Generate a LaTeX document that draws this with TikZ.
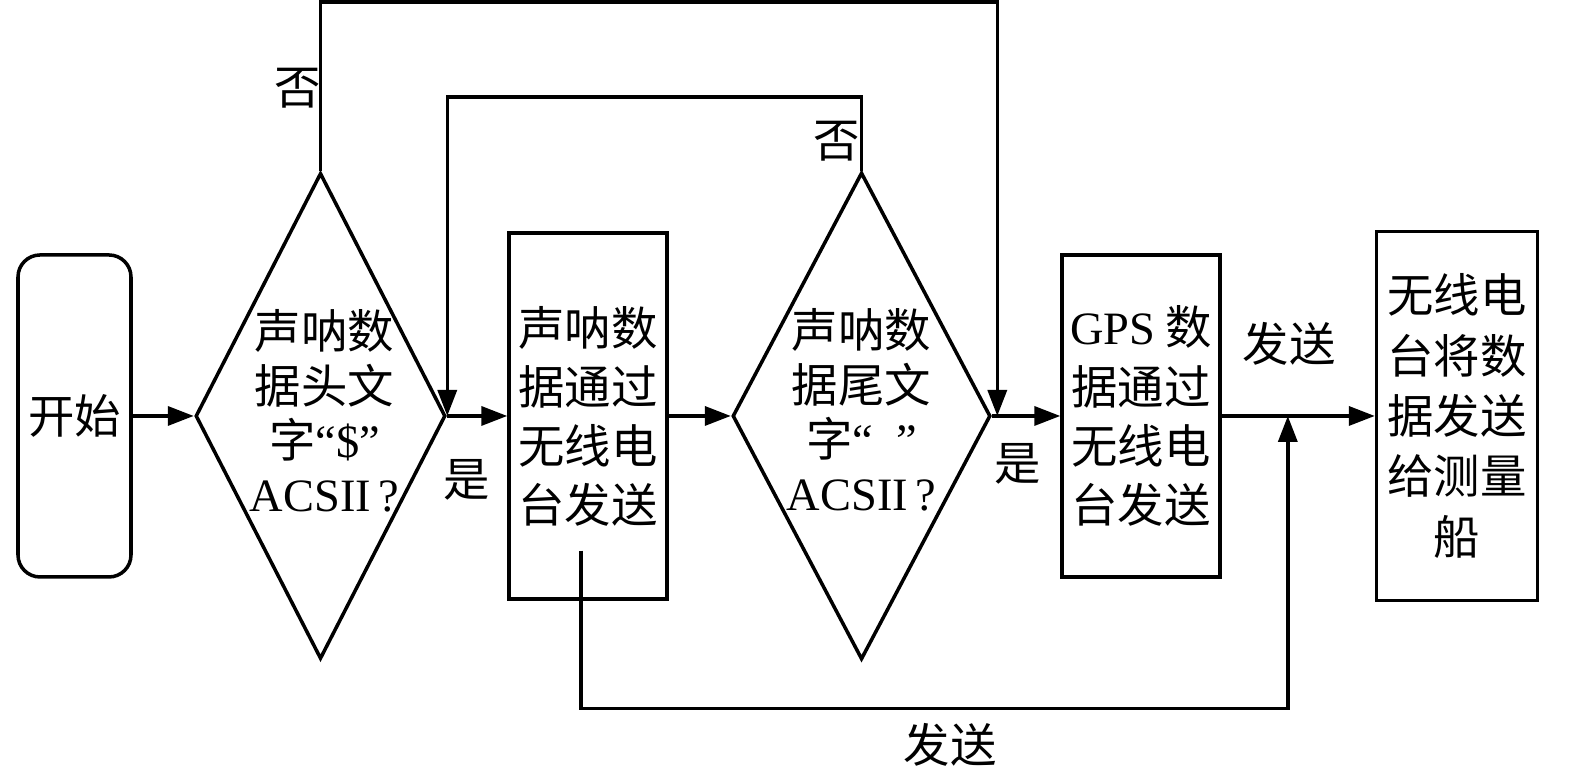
\documentclass[tikz,border=0pt]{standalone}
\usepackage{fontspec}
\setmainfont{Liberation Serif}
\newfontfamily\zhfont{Noto Sans CJK SC}
\newfontfamily\lat{Liberation Serif}
\usetikzlibrary{arrows.meta,positioning,shapes.geometric,calc}

\begin{document}
\begin{tikzpicture}[
  >={Triangle[length=2.6mm,width=1.9mm]},
  line width=1pt,
  base/.style={draw, line width=1pt, inner sep=0pt, align=center,
    font=\zhfont\fontsize{13.2}{16.8}\selectfont},
  startbox/.style={base, rounded corners=0.22cm, minimum width=1.13cm, minimum height=3.22cm},
  decbox/.style={base, diamond, minimum width=2.5cm, minimum height=4.86cm},
  procbox/.style={base, rectangle, minimum width=1.58cm},
  dtext/.style={align=center, inner sep=0pt, font=\zhfont\fontsize{13.2}{15.4}\selectfont},
  lbl/.style={inner sep=0pt, font=\zhfont\fontsize{13.2}{15}\selectfont},
  arr/.style={->, line width=1pt},
]
\useasboundingbox (0,0) rectangle (15.75,7.72);

% Main chain
\node[startbox] (start) at (0.745,3.56) {开始};
\node[decbox, right=0.61cm of start] (q1) {};
\node[dtext] (q1t) at ($(q1)+(0.04,0.05)$) {声呐数\\据头文\\字{\lat “\$”}\\{\lat ACSII\,?}};
\node[procbox, minimum height=3.66cm, right=0.6cm of q1] (sonar) {声呐数\\据通过\\无线电\\台发送};
\node[decbox, minimum width=2.58cm, minimum height=4.87cm, right=0.62cm of sonar] (q2) {};
\node[dtext] (q2t) at ($(q2)+(0,0.06)$) {声呐数\\据尾文\\字{\lat “\hspace{0.5em}”}\\{\lat ACSII\,?}};
\node[procbox, minimum height=3.22cm, right=0.68cm of q2] (gps) {{\lat GPS} 数\\据通过\\无线电\\台发送};
\node[procbox, minimum width=1.61cm, minimum height=3.69cm, right=1.53cm of gps,
  font=\zhfont\fontsize{13.2}{17.2}\selectfont] (radio) {无线电\\台将数\\据发送\\给测量\\船};

% Junctions
\coordinate[right=0.05cm of q2.east] (j2);
\coordinate[right=0.66cm of gps.east] (j3);
\coordinate (s2) at ($(sonar.south)+(-0.07,0.5)$);

% Arrows
\draw[arr] (start) -- (q1);
\draw[arr] (q1) -- (sonar);
\draw[arr] (sonar) -- (q2);
\draw[arr] (q2) -- (gps);
\draw[arr] (gps) -- (radio);
\draw[arr] (q1.north) -- ++(0,1.69) -| (j2);
\draw[arr] (q2.north) -- ++(0,0.735) -| (q1.east);
\draw[arr] (s2) -- ++(0,-1.58) -| (j3);

% Labels
\node[lbl] (no1) at (2.98,6.84) {否};
\node[lbl] (no2) at (8.37,6.31) {否};
\node[lbl] (yes1) at (4.67,2.92) {是};
\node[lbl] (yes2) at (10.18,3.08) {是};
\node[lbl] (send1) at (12.89,4.28) {发送};
\node[lbl] (send2) at (9.50,0.27) {发送};
\end{tikzpicture}
\end{document}
